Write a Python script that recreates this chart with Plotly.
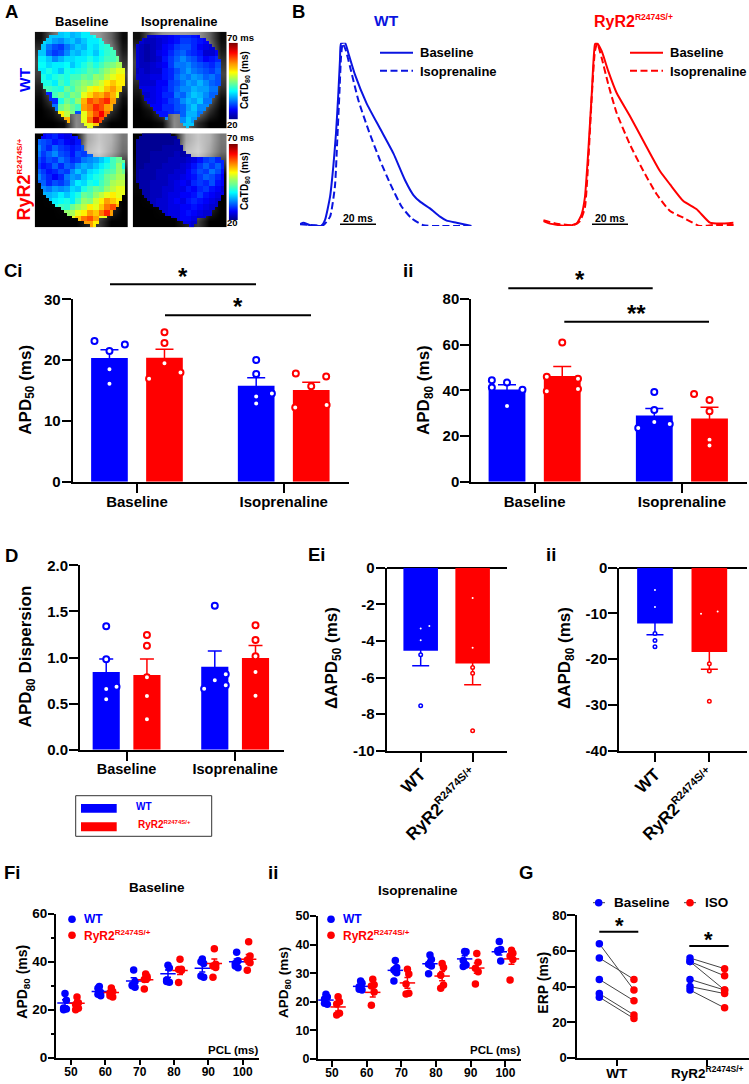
import plotly.graph_objects as go

W, H = 749, 1084
BLUE = "#0000ff"
RED = "#ff0000"
FONT = "Liberation Sans"

# ---- panel A, CaTD80 maps in ms
a_wt_base = [
    [0, 0, 0, 36, 36, 37, 35, 36, 38, 38, 40, 0, 0, 0, 0, 0],
    [0, 37, 36, 34, 33, 35, 36, 34, 36, 38, 38, 40, 40, 0, 0, 0],
    [0, 36, 32, 30, 29, 32, 34, 36, 35, 38, 37, 40, 41, 42, 0, 0],
    [0, 36, 31, 29, 30, 33, 36, 35, 37, 38, 36, 39, 41, 42, 0, 0],
    [0, 38, 36, 33, 35, 37, 37, 38, 38, 40, 38, 40, 42, 42, 44, 0],
    [0, 39, 37, 38, 38, 39, 36, 38, 40, 42, 40, 42, 44, 45, 47, 0],
    [0, 38, 40, 38, 36, 40, 39, 40, 41, 43, 42, 44, 46, 48, 50, 0],
    [0, 40, 38, 40, 41, 40, 42, 42, 44, 43, 46, 45, 48, 50, 52, 0],
    [0, 0, 40, 38, 42, 40, 43, 44, 46, 45, 47, 49, 52, 54, 52, 0],
    [0, 0, 42, 41, 40, 44, 42, 45, 47, 50, 52, 50, 54, 56, 53, 0],
    [0, 0, 28, 42, 44, 42, 45, 44, 50, 53, 56, 55, 58, 55, 50, 0],
    [0, 0, 0, 28, 40, 44, 42, 46, 55, 60, 58, 60, 62, 56, 0, 0],
    [0, 0, 0, 32, 44, 46, 44, 42, 56, 58, 62, 60, 56, 55, 0, 0],
    [0, 0, 0, 0, 52, 48, 45, 30, 50, 56, 60, 64, 58, 0, 0, 0],
    [0, 0, 0, 0, 0, 55, 0, 0, 50, 58, 66, 60, 0, 0, 0, 0],
    [0, 0, 0, 0, 0, 0, 0, 0, 0, 50, 54, 0, 0, 0, 0, 0],
]
a_wt_iso = [
    [0, 0, 24, 24, 25, 25, 26, 27, 28, 28, 27, 26, 25, 0, 0, 0],
    [0, 24, 23, 23, 24, 25, 26, 27, 29, 29, 28, 27, 26, 25, 0, 0],
    [24, 23, 22, 23, 24, 26, 27, 29, 30, 30, 28, 26, 25, 24, 25, 0],
    [24, 23, 22, 23, 25, 26, 28, 30, 31, 29, 28, 27, 24, 24, 26, 0],
    [24, 23, 22, 23, 24, 27, 29, 31, 33, 31, 30, 28, 26, 27, 28, 0],
    [24, 23, 23, 24, 25, 26, 29, 32, 32, 33, 31, 30, 29, 28, 30, 0],
    [23, 24, 23, 24, 24, 27, 28, 30, 32, 34, 32, 31, 30, 29, 31, 0],
    [0, 24, 24, 25, 25, 27, 28, 31, 33, 32, 34, 33, 31, 32, 30, 0],
    [0, 24, 24, 24, 26, 26, 29, 30, 32, 34, 33, 35, 33, 31, 30, 0],
    [0, 0, 25, 25, 26, 27, 29, 31, 33, 33, 35, 34, 34, 32, 0, 0],
    [0, 0, 24, 25, 26, 28, 28, 32, 31, 34, 36, 35, 33, 31, 0, 0],
    [0, 0, 0, 25, 26, 27, 29, 30, 33, 35, 34, 36, 32, 0, 0, 0],
    [0, 0, 0, 0, 26, 28, 28, 30, 31, 34, 36, 33, 0, 0, 0, 0],
    [0, 0, 0, 0, 0, 27, 28, 29, 31, 35, 35, 32, 0, 0, 0, 0],
    [0, 0, 0, 0, 0, 0, 0, 0, 33, 36, 34, 0, 0, 0, 0, 0],
    [0, 0, 0, 0, 0, 0, 0, 0, 0, 36, 0, 0, 0, 0, 0, 0],
]
a_ryr_base = [
    [0, 26, 27, 28, 26, 25, 26, 27, 0, 0, 0, 0, 0, 0, 0, 0],
    [31, 30, 29, 27, 28, 26, 25, 27, 0, 0, 0, 0, 0, 0, 0, 0],
    [33, 30, 28, 31, 29, 28, 27, 28, 30, 0, 0, 0, 0, 0, 0, 0],
    [32, 29, 31, 33, 30, 29, 27, 30, 29, 31, 0, 0, 0, 0, 0, 0],
    [30, 28, 30, 29, 32, 30, 28, 29, 32, 33, 34, 36, 38, 42, 44, 0],
    [29, 27, 28, 31, 28, 31, 30, 33, 35, 34, 36, 38, 40, 42, 46, 40],
    [31, 29, 27, 28, 30, 29, 33, 36, 34, 37, 38, 40, 42, 43, 46, 44],
    [33, 30, 28, 26, 28, 32, 34, 33, 36, 38, 40, 41, 44, 45, 47, 0],
    [0, 31, 28, 30, 29, 31, 35, 38, 37, 40, 39, 42, 44, 47, 48, 0],
    [0, 33, 32, 34, 33, 34, 37, 36, 40, 42, 44, 43, 46, 48, 50, 0],
    [0, 0, 35, 36, 38, 36, 38, 40, 44, 43, 46, 48, 50, 52, 50, 0],
    [0, 0, 36, 38, 39, 40, 38, 42, 46, 45, 49, 52, 56, 54, 52, 0],
    [0, 0, 0, 40, 42, 41, 44, 46, 48, 52, 50, 54, 58, 60, 55, 0],
    [0, 0, 0, 0, 44, 46, 47, 50, 52, 56, 54, 58, 62, 56, 0, 0],
    [0, 0, 0, 0, 0, 0, 50, 54, 58, 60, 56, 50, 0, 0, 0, 0],
    [0, 0, 0, 0, 0, 0, 0, 0, 0, 56, 52, 0, 0, 0, 0, 0],
]
a_ryr_iso = [
    [0, 21, 21, 21, 21, 21, 21, 21, 0, 0, 0, 0, 0, 0, 0, 0],
    [21, 21, 21, 21, 21, 21, 21, 22, 0, 0, 0, 0, 0, 0, 0, 0],
    [21, 21, 21, 21, 21, 22, 22, 22, 22, 0, 0, 0, 0, 0, 0, 0],
    [21, 21, 21, 22, 22, 22, 22, 23, 22, 23, 0, 0, 0, 0, 0, 0],
    [21, 21, 21, 22, 22, 22, 23, 23, 23, 24, 25, 27, 29, 30, 28, 0],
    [21, 21, 22, 22, 22, 23, 23, 23, 24, 25, 27, 29, 31, 29, 31, 28],
    [21, 22, 22, 22, 23, 23, 23, 24, 24, 26, 28, 30, 29, 32, 30, 27],
    [21, 22, 22, 22, 23, 23, 24, 24, 25, 26, 27, 29, 31, 30, 28, 26],
    [0, 22, 22, 23, 23, 23, 24, 25, 26, 25, 28, 29, 28, 30, 27, 26],
    [0, 22, 22, 23, 23, 24, 24, 25, 25, 27, 26, 28, 29, 27, 26, 24],
    [0, 0, 22, 23, 23, 24, 25, 25, 26, 26, 27, 29, 27, 26, 25, 0],
    [0, 0, 22, 23, 24, 24, 25, 26, 25, 27, 28, 27, 26, 25, 24, 0],
    [0, 0, 0, 23, 24, 24, 25, 25, 26, 26, 27, 26, 25, 24, 24, 0],
    [0, 0, 0, 0, 0, 24, 25, 25, 26, 27, 26, 25, 24, 24, 0, 0],
    [0, 0, 0, 0, 0, 0, 24, 25, 26, 26, 25, 24, 0, 0, 0, 0],
    [0, 0, 0, 0, 0, 0, 0, 0, 0, 25, 24, 0, 0, 0, 0, 0],
]
# heart outline per map row (32 rows), left and right edge on a 0-280 scale across the picture
a_wt_base_l = [71, 46, 31, 23, 18, 14, 12, 11, 10, 10, 10, 11, 12, 14, 16, 18, 21, 24, 28, 31, 36, 41, 46, 51, 56, 61, 68, 76, 88, 100, 146, 154]
a_wt_base_r = [166, 186, 201, 214, 224, 233, 241, 246, 252, 256, 260, 264, 267, 269, 270, 270, 269, 268, 266, 263, 258, 253, 248, 243, 238, 233, 226, 218, 208, 201, 191, 176]
a_wt_iso_l = [280, 45, 28, 18, 13, 10, 8, 7, 7, 7, 7, 7, 8, 9, 10, 12, 14, 16, 19, 22, 27, 32, 38, 45, 52, 60, 68, 80, 95, 140, 145, 155]
a_wt_iso_r = [0, 200, 218, 230, 238, 245, 250, 255, 258, 261, 263, 265, 266, 266, 266, 265, 263, 261, 258, 254, 250, 245, 238, 232, 225, 218, 210, 202, 196, 188, 180, 165]
a_ryr_l = [30, 14, 8, 6, 5, 5, 5, 5, 5, 5, 6, 6, 7, 8, 9, 10, 12, 15, 19, 24, 30, 37, 45, 54, 64, 75, 87, 100, 115, 130, 148, 165]
a_ryr_r = [118, 132, 138, 144, 148, 153, 160, 172, 266, 270, 273, 274, 275, 275, 274, 274, 273, 272, 271, 270, 268, 265, 262, 258, 253, 247, 240, 232, 222, 190, 190, 186]
# grey fluorescence picture behind the maps
a_bg_wt = [
    [15, 100, 150, 160, 160, 150, 100, 10],
    [50, 140, 160, 160, 160, 160, 130, 25],
    [70, 150, 160, 160, 160, 160, 140, 50],
    [60, 140, 160, 160, 160, 160, 150, 70],
    [30, 120, 160, 160, 160, 160, 140, 50],
    [10, 80, 140, 160, 160, 160, 110, 15],
    [0, 20, 80, 130, 130, 130, 50, 0],
    [0, 0, 10, 140, 110, 40, 0, 0],
]
a_bg_ryr = [
    [0, 0, 0, 10, 170, 200, 180, 120],
    [0, 0, 0, 30, 190, 210, 170, 110],
    [5, 10, 10, 30, 140, 170, 120, 60],
    [10, 20, 20, 30, 40, 60, 40, 10],
    [5, 10, 20, 30, 30, 30, 20, 5],
    [0, 5, 10, 20, 30, 30, 20, 0],
    [0, 0, 5, 10, 40, 110, 40, 0],
    [0, 0, 0, 0, 30, 60, 0, 0],
]
a_cb_levels = [20, 22, 24, 26, 28, 30, 32, 34, 36, 38, 40, 42, 44, 46, 48, 50, 52, 54, 56, 58, 60, 62, 64, 66, 68, 70]

# ---- panel B, normalised transients against ms
b_wt_base_t = [0, 1.9, 5.6, 12, 13.9, 16.7, 18.5, 20, 21.3, 22.2, 22.8, 25, 26.9, 30.6, 37, 44.4, 51.9, 58.3, 63, 66.7, 72.2, 77.8, 81.5, 87, 95.4]
b_wt_base_v = [.011, .018, .004, .002, .033, .16, .324, .505, .724, .905, .996, 1, .942, .824, .669, .533, .396, .251, .169, .133, .096, .051, .029, .018, 0]
b_wt_iso_t = [0, 7.4, 13, 16.7, 19.4, 20.7, 21.9, 22.8, 23.7, 25.4, 27.8, 32.4, 38, 44.4, 50, 56.5, 62, 68.5, 77.8, 88.9, 95.4]
b_wt_iso_v = [.01, .004, .005, .051, .215, .469, .724, .924, .996, .96, .869, .687, .524, .36, .233, .105, .042, .004, 0, 0, 0]
b_ryr_base_t = [0, 3.7, 12.9, 18.5, 21.3, 23.1, 25, 26.9, 28.7, 29.6, 32.4, 36.1, 40.7, 48.1, 55.6, 64.8, 70.4, 77.8, 85.2, 92.6, 98.1, 105.6]
b_ryr_base_v = [.027, .013, 0, .013, .064, .155, .409, .718, .991, 1, .955, .845, .727, .6, .464, .3, .227, .136, .091, .018, .013, .018]
b_ryr_iso_t = [0, 7.4, 16.7, 20.4, 23.1, 25, 26.9, 28.7, 30, 32.4, 36.1, 40.7, 48.1, 55.6, 63, 70.4, 77.8, 87, 94.4, 106.5]
b_ryr_iso_v = [.031, .013, .005, .027, .1, .355, .7, .955, .995, .918, .773, .618, .445, .3, .173, .082, .045, 0, .005, .005]

# ---- panels C and D, one row per condition (Baseline, Isoprenaline)
groups = ["Baseline", "Isoprenaline"]

ci_mean_wt = [20.35, 15.8]
ci_mean_ryr = [20.4, 15.1]
ci_sem_wt = [1.35, 1.3]
ci_sem_ryr = [1.4, 1.25]
ci_pts_wt = [[23.15, 21.5, 22.55, 18.5, 16.1], [20, 17.7, 14, 12.85, 14.5]]
ci_pts_ryr = [[24.6, 22.8, 19.5, 16.95, 17.95], [17.8, 17.3, 15.7, 12.2, 12.6]]
ci_jit_wt = [[-.102, 0, .105, 0, 0], [0, 0, 0, 0, .107]]
ci_jit_ryr = [[0, 0, 0, -.105, .109], [-.105, .102, 0, -.109, .105]]

cii_mean_wt = [40.4, 29]
cii_mean_ryr = [46.3, 27.7]
cii_sem_wt = [2.1, 3]
cii_sem_ryr = [4.1, 4.9]
cii_pts_wt = [[44.4, 41.3, 43.4, 40.3, 33.1], [39.3, 31.4, 26.1, 25.3, 23.5]]
cii_pts_ryr = [[61, 46, 45.1, 39.6, 40.6], [38.4, 35.8, 30.8, 18.4, 15.8]]
cii_jit_wt = [[-.103, -.103, 0, .105, 0], [0, 0, 0, .105, -.109]]
cii_jit_ryr = [[0, -.105, .107, -.105, .107], [-.105, 0, 0, 0, 0]]

d_mean_wt = [.843, .90]
d_mean_ryr = [.81, .995]
d_sem_wt = [.141, .17]
d_sem_ryr = [.174, .135]
d_pts_wt = [[1.34, .98, .683, .658, .546], [1.562, .817, .752, .70, .662]]
d_pts_ryr = [[1.244, 1.128, .785, .582, .329], [1.349, 1.19, 1.013, .843, .586]]
d_jit_wt = [[0, 0, .095, 0, 0], [0, .101, 0, .101, -.098]]
d_jit_ryr = [[0, 0, 0, 0, 0], [0, 0, 0, 0, 0]]

# ---- panel E, one value per genotype
ei_mean = [-4.54, -5.23]
ei_sem = [.82, 1.16]
ei_pts_wt = [-3.32, -3.19, -3.97, -4.75, -7.54]
ei_pts_ryr = [-1.66, -4.37, -5.46, -5.77, -8.91]
ei_jit_wt = [0, .167, 0, 0, 0]
ei_jit_ryr = [0, 0, 0, 0, 0]

eii_mean = [-12.17, -18.43]
eii_sem = [2.47, 3.77]
eii_pts_wt = [-4.88, -8.6, -14.4, -15.9, -17.3]
eii_pts_ryr = [-10.05, -9.6, -21, -22.6, -29.2]
eii_jit_wt = [0, 0, 0, 0, 0]
eii_jit_ryr = [-.153, .153, 0, 0, 0]

# ---- panel F
pcl = [50, 60, 70, 80, 90, 100]
fi_wt = [[26.7, 23.9, 20.7, 20.3, 20], [29.7, 27.2, 26.4, 25.8, 28.9], [36.5, 31.7, 30, 29.4, 30.3],
         [38.5, 37.4, 32.4, 31.4, 31.7], [41.1, 39.3, 34, 33.5, 40], [43.9, 40.4, 39.3, 37.5, 38.2]]
fi_ryr = [[25.3, 22.9, 22.2, 20.6, 20], [29, 27.6, 27.1, 25.3, 25.8], [34.9, 33.8, 32.6, 33, 28.6],
          [41, 36.9, 36.7, 36.3, 31.3], [45.4, 38.9, 38.2, 37.6, 33.5], [48.3, 42.4, 40.7, 39.6, 36.4]]
fi_mean_wt = [22.8, 27.6, 32, 35, 37.3, 40]
fi_mean_ryr = [22.7, 27.2, 32.5, 36.3, 39.2, 41]
fi_sem_wt = [1.3, .8, 1.3, 1.5, 1.6, 1.1]
fi_sem_ryr = [1, .7, 1.1, 1.6, 1.9, 2]
fii_wt = [[22.6, 21.7, 21, 19.1, 19.5], [27.3, 26.5, 25.3, 24.1, 24.4], [34.4, 32, 31.1, 30.2, 27.3],
          [36.4, 34.8, 33.1, 32.5, 29.8], [37.6, 37.5, 34.4, 32.9, 32.3], [41.1, 38.3, 37.5, 34.3, 37.9]]
fii_ryr = [[21.8, 20, 19.2, 16, 15.4], [27.9, 26, 25.5, 23.4, 18.8], [31.4, 29.7, 26.2, 23, 22.7],
           [33.4, 32, 29.3, 25.9, 24.7], [36.9, 33.8, 31.7, 30.5, 26.2], [38, 37, 36, 34.8, 27.6]]
fii_mean_wt = [20.6, 25.4, 31, 33.3, 35, 37.5]
fii_mean_ryr = [18.2, 23.3, 26.6, 29, 31.8, 35]
fii_sem_wt = [.7, .6, 1.2, 1.1, 1.1, 1.1]
fii_sem_ryr = [1.4, 1.6, 1.9, 1.6, 1.8, 1.9]
f_jit = [0, .4, -.4, .4, -.4]

# ---- panel G, paired ERP
g_wt_base = [64, 56, 44, 36, 34]
g_wt_iso = [38, 44, 32, 24, 22]
g_ryr_base = [56, 54, 54, 44, 40, 38]
g_ryr_iso = [50, 46, 38, 38, 36, 28]


def ryr(sup):
    return f'RyR2<sup><span style="font-size:{sup}px">R2474S/+</span></sup>'


def px_x(x):
    return x / W


def px_y(y):
    return 1 - y / H


fig = go.Figure()
layout_axes = {}
shapes = []
notes = []


def add_axes(n, box, xr, yr, **kw):
    x0, x1, y0, y1 = box
    xa = dict(domain=[px_x(x0), px_x(x1)], range=xr, anchor=f"y{n}", showgrid=False, zeroline=False, automargin=False,
              showline=True, linecolor="black", linewidth=2, ticks="outside", ticklen=kw.get("xlen", 9), tickwidth=2,
              ticklabelstandoff=kw.get("xoff", -4),
              tickcolor="black", tickfont=dict(family=FONT, size=kw.get("xfont", 15), color="black", weight=700))
    ya = dict(domain=[px_y(y1), px_y(y0)], range=yr, anchor=f"x{n}", showgrid=False, zeroline=False, automargin=False,
              showline=True, linecolor="black", linewidth=2, ticks="outside", ticklen=kw.get("ylen", 9), tickwidth=2,
              ticklabelstandoff=kw.get("yoff", -2),
              tickcolor="black", tickfont=dict(family=FONT, size=kw.get("yfont", 15), color="black", weight=700),
              tickvals=kw["yticks"])
    if "ytext" in kw:
        ya["ticktext"] = kw["ytext"]
    xa["tickvals"] = kw["xticks"]
    xa["ticktext"] = kw["xtext"]
    if "xangle" in kw:
        xa["tickangle"] = kw["xangle"]
    if "zero" in kw:
        ya.update(zeroline=True, zerolinecolor="black", zerolinewidth=2)
    if "minor" in kw:
        ya["minor"] = dict(ticks="outside", ticklen=3.5, tickwidth=1.5, tickcolor="black", dtick=kw["minor"])
    key = "" if n == 1 else str(n)
    layout_axes[f"xaxis{key}"] = xa
    layout_axes[f"yaxis{key}"] = ya


def axref(n):
    return ("x", "y") if n == 1 else (f"x{n}", f"y{n}")


def note(x, y, text, size, color="black", angle=0, anchor="center"):
    notes.append(dict(x=px_x(x), y=px_y(y), xref="paper", yref="paper", text=text, showarrow=False,
                      textangle=angle, xanchor=anchor, yanchor="middle",
                      font=dict(family=FONT, size=size, color=color, weight=700)))


def seg(x0, y0, x1, y1, color="black", width=2, dash=None):
    shapes.append(dict(type="line", xref="paper", yref="paper", x0=px_x(x0), x1=px_x(x1), y0=px_y(y0), y1=px_y(y1),
                       line=dict(color=color, width=width, dash=dash)))


def dot(x, y, r, color):
    shapes.append(dict(type="circle", xref="paper", yref="paper", x0=px_x(x - r), x1=px_x(x + r),
                       y0=px_y(y + r), y1=px_y(y - r), fillcolor=color, line=dict(color=color, width=0)))


def patch(x0, y0, x1, y1, fill, line=None):
    shapes.append(dict(type="rect", xref="paper", yref="paper", x0=px_x(x0), x1=px_x(x1), y0=px_y(y1), y1=px_y(y0),
                       fillcolor=fill, line=dict(color=line or fill, width=1 if line else 0)))


def bars(n, xs, means, sems, color, width, cap):
    xr, yr = axref(n)
    fig.add_trace(go.Bar(x=xs, y=means, width=width, marker=dict(color=color, line=dict(width=0)),
                         error_y=dict(type="data", array=sems, color=color, thickness=1.5, width=cap),
                         xaxis=xr, yaxis=yr, showlegend=False))


def circles(n, xs, ys, color, size=6, lw=2):
    xr, yr = axref(n)
    fig.add_trace(go.Scatter(x=xs, y=ys, mode="markers", xaxis=xr, yaxis=yr, showlegend=False,
                             marker=dict(color="white", size=size, line=dict(color=color, width=lw))))


def grouped_panel(n, wt, ryr_, sem_wt, sem_ryr, pts_wt, pts_ryr, jit_wt, jit_ryr, cap):
    off = .1875
    xw = [i - off for i in range(2)]
    xr_ = [i + off for i in range(2)]
    bars(n, xw, wt, sem_wt, BLUE, .25, cap)
    bars(n, xr_, ryr_, sem_ryr, RED, .25, cap)
    for i in range(2):
        circles(n, [xw[i] + j for j in jit_wt[i]], pts_wt[i], BLUE)
        circles(n, [xr_[i] + j for j in jit_ryr[i]], pts_ryr[i], RED)


def heart_map(grid, left, right, notch=None):
    # 32x32 picture from the 16x16 readings, blanked outside the outline
    z = []
    for r in range(32):
        row = []
        for c in range(32):
            cx = (c + .5) * 280 / 32
            inside = left[r] <= cx <= right[r]
            if notch and notch[0] <= r <= notch[1] and notch[2] <= cx <= notch[3]:
                inside = False
            v = None
            if inside:
                cells = grid[r // 2]
                v = cells[c // 2]
                if not v:
                    known = [i for i in range(16) if cells[i]]
                    v = cells[min(known, key=lambda i: abs(i - c // 2))]
            row.append(v)
        z.append(row)
    return z


# A
jet = [[0, "#00007f"], [.125, "#0000ff"], [.375, "#00ffff"], [.625, "#ffff00"], [.875, "#ff0000"], [1, "#7f0000"]]
a_panels = [
    (10, (34.7, 128, 31.7, 128.3), a_bg_wt, heart_map(a_wt_base, a_wt_base_l, a_wt_base_r, (27, 31, 104, 141))),
    (11, (132.7, 226.7, 31.7, 128.3), a_bg_wt, heart_map(a_wt_iso, a_wt_iso_l, a_wt_iso_r, (27, 31, 107, 140))),
    (12, (34.7, 128, 133.3, 227.3), a_bg_ryr, heart_map(a_ryr_base, a_ryr_l, a_ryr_r)),
    (13, (132.7, 226.7, 133.3, 227.3), a_bg_ryr, heart_map(a_ryr_iso, a_ryr_l, a_ryr_r)),
]
for n, box, bg, z in a_panels:
    xr, yr = axref(n)
    layout_axes[f"xaxis{n}"] = dict(domain=[px_x(box[0]), px_x(box[1])], range=[0, 16], visible=False, anchor=f"y{n}")
    layout_axes[f"yaxis{n}"] = dict(domain=[px_y(box[3]), px_y(box[2])], range=[16, 0], visible=False, anchor=f"x{n}")
    fig.add_trace(go.Heatmap(z=bg, x0=1, dx=2, y0=1, dy=2, xaxis=xr, yaxis=yr, zmin=0, zmax=255, zsmooth="best",
                             colorscale=[[0, "black"], [1, "white"]], showscale=False))
    fig.add_trace(go.Heatmap(z=z, x0=.25, dx=.5, y0=.25, dy=.5, xaxis=xr, yaxis=yr, zmin=20, zmax=70, colorscale=jet,
                             showscale=False))
# the two colour keys
for n, cy0, cy1 in [(16, 42.7, 119.3), (17, 144, 220)]:
    xr, yr = axref(n)
    layout_axes[f"xaxis{n}"] = dict(domain=[px_x(228.7), px_x(238)], visible=False, anchor=f"y{n}")
    layout_axes[f"yaxis{n}"] = dict(domain=[px_y(cy1), px_y(cy0)], range=[20, 70], visible=False, anchor=f"x{n}")
    fig.add_trace(go.Heatmap(z=[[v] for v in a_cb_levels], y=a_cb_levels, x=[0], xaxis=xr, yaxis=yr, zmin=20, zmax=70,
                             colorscale=jet, zsmooth="best", showscale=False))

note(11, 12, "A", 18.5)
note(81, 21.7, "Baseline", 13)
note(179, 21.7, "Isoprenaline", 13)
note(24, 80, "WT", 15.5, BLUE, -90)
note(23.5, 180, ryr(8), 18, RED, -90)
for top, mid, bot in [(37, 80, 124), (138, 181, 222)]:
    note(241, top, "70 ms", 9.5)
    note(232, bot, "20", 9.5)
    note(245, mid, "CaTD<sub>80</sub> (ms)", 10, angle=-90)

# B
add_axes(14, (300, 471.7, 42.7, 226), [0, 95.4], [0, 1], xticks=[], xtext=[], yticks=[])
add_axes(15, (543.3, 735, 42.7, 226), [0, 106.5], [0, 1], xticks=[], xtext=[], yticks=[])
for k in (14, 15):
    layout_axes[f"xaxis{k}"].update(visible=False)
    layout_axes[f"yaxis{k}"].update(visible=False)
for n, t1, v1, t2, v2, color in [(14, b_wt_base_t, b_wt_base_v, b_wt_iso_t, b_wt_iso_v, "#0a14e0"),
                                 (15, b_ryr_base_t, b_ryr_base_v, b_ryr_iso_t, b_ryr_iso_v, RED)]:
    xr, yr = axref(n)
    fig.add_trace(go.Scatter(x=t1, y=v1, mode="lines", xaxis=xr, yaxis=yr, showlegend=False, cliponaxis=False,
                             line=dict(color=color, width=2, shape="spline", smoothing=.5)))
    fig.add_trace(go.Scatter(x=t2, y=v2, mode="lines", xaxis=xr, yaxis=yr, showlegend=False, cliponaxis=False,
                             line=dict(color=color, width=2, dash="7px,3.5px", shape="spline", smoothing=.5)))
note(298, 11, "B", 18.5)
note(386, 20.7, "WT", 15.5, "#0a14e0")
note(591.7, 21, ryr(8.5), 16, RED, anchor="left")
for x0, tx, color in [(380, 417.7, "#0a14e0"), (630, 667.7, RED)]:
    seg(x0, 52.7, x0 + 33, 52.7, color, 2)
    seg(x0, 70.7, x0 + 33, 70.7, color, 2, "7px,3.5px")
    note(tx, 53, "Baseline", 13, anchor="left")
    note(tx, 71, "Isoprenaline", 13, anchor="left")
for x0 in (340, 592):
    seg(x0, 224.3, x0 + 36, 224.3, "black", 1.6)
    note(x0 + 18, 218, "20 ms", 10.5)

# Ci
add_axes(1, (72.7, 349, 299.3, 481.7), [-.438, 1.445], [0, 30], xticks=[0, 1], xtext=groups, yticks=[0, 10, 20, 30])
grouped_panel(1, ci_mean_wt, ci_mean_ryr, ci_sem_wt, ci_sem_ryr, ci_pts_wt, ci_pts_ryr, ci_jit_wt, ci_jit_ryr, 9)
note(14, 270, "Ci", 18.5)
note(26.7, 390, "APD<sub>50</sub> (ms)", 17, angle=-90)
seg(110, 284.3, 256, 284.3)
note(182.7, 276, "*", 24)
seg(165, 315.3, 311, 315.3)
note(238, 306, "*", 24)

# Cii
add_axes(2, (471.3, 746.7, 299, 481.7), [-.43, 1.44], [0, 80], xticks=[0, 1], xtext=groups, yticks=[0, 20, 40, 60, 80])
grouped_panel(2, cii_mean_wt, cii_mean_ryr, cii_sem_wt, cii_sem_ryr, cii_pts_wt, cii_pts_ryr, cii_jit_wt, cii_jit_ryr, 9)
note(408, 270, "ii", 18.5)
note(425, 390, "APD<sub>80</sub> (ms)", 17, angle=-90)
seg(508.3, 288.3, 652.7, 288.3)
note(580, 279, "*", 24)
seg(564.3, 321.7, 709, 321.7)
note(636.7, 313, "**", 24)

# D
add_axes(3, (80, 284, 565.3, 749.7), [-.429, 1.45], [0, 2], xticks=[0, 1], xtext=groups, xfont=14.5,
         yticks=[0, .5, 1, 1.5, 2], ytext=["0.0", "0.5", "1.0", "1.5", "2.0"])
grouped_panel(3, d_mean_wt, d_mean_ryr, d_sem_wt, d_sem_ryr, d_pts_wt, d_pts_ryr, d_jit_wt, d_jit_ryr, 7)
note(11.7, 555, "D", 18.5)
note(26.7, 656.7, "APD<sub>80</sub> Dispersion", 17, angle=-90)
patch(75.7, 795.7, 211.7, 836.3, "white", "#333333")
patch(81, 804, 116.7, 812.7, BLUE)
patch(81, 822.3, 116.7, 831.3, RED)
note(143.7, 806.3, "WT", 10, BLUE)
note(136, 824, ryr(6), 10, RED, anchor="left")

# Ei, Eii
ticks_e = ["WT", ryr(11)]
add_axes(4, (386.7, 507.3, 567.7, 750.7), [-.654, 1.667], [-10, 0], xticks=[0, 1], xtext=ticks_e, xangle=-45, xfont=17,
         yticks=[0, -2, -4, -6, -8, -10], ytext=["0", "-2", "-4", "-6", "-8", "-10"], zero=True)
bars(4, [0], ei_mean[:1], ei_sem[:1], BLUE, .665, 8.5)
bars(4, [1], ei_mean[1:], ei_sem[1:], RED, .665, 8.5)
circles(4, ei_jit_wt, ei_pts_wt, BLUE, 3.5, 1.5)
circles(4, [1 + j for j in ei_jit_ryr], ei_pts_ryr, RED, 3.5, 1.5)
note(316.7, 554, "Ei", 18.5)
note(333, 658, "ΔAPD<sub>50</sub> (ms)", 17, angle=-90)

add_axes(5, (619.3, 746.7, 567.7, 750.7), [-.656, 1.687], [-40, 0], xticks=[0, 1], xtext=ticks_e, xangle=-45, xfont=17,
         yticks=[0, -10, -20, -30, -40], ytext=["0", "-10", "-20", "-30", "-40"], zero=True)
bars(5, [0], eii_mean[:1], eii_sem[:1], BLUE, .656, 8.5)
bars(5, [1], eii_mean[1:], eii_sem[1:], RED, .656, 8.5)
circles(5, eii_jit_wt, eii_pts_wt, BLUE, 3.5, 1.5)
circles(5, [1 + j for j in eii_jit_ryr], eii_pts_ryr, RED, 3.5, 1.5)
note(550.7, 554, "ii", 18.5)
note(566, 658, "ΔAPD<sub>80</sub> (ms)", 17, angle=-90)


# Fi, Fii
def f_panel(n, wt, ryr_, mean_wt, mean_ryr, sem_wt, sem_ryr):
    xr, yr = axref(n)
    for vals, mean, sem, off, color in [(wt, mean_wt, sem_wt, -1.75, BLUE), (ryr_, mean_ryr, sem_ryr, 1.75, RED)]:
        fig.add_trace(go.Scatter(x=[p + off for p in pcl], y=mean, mode="markers", xaxis=xr, yaxis=yr, showlegend=False,
                                 marker=dict(symbol="line-ew", size=11, line=dict(color=color, width=1.5)),
                                 error_y=dict(type="data", array=sem, color=color, thickness=1.5, width=3)))
        xs = [p + off + j for p in pcl for j in f_jit]
        ys = [v for row in vals for v in row]
        fig.add_trace(go.Scatter(x=xs, y=ys, mode="markers", xaxis=xr, yaxis=yr, showlegend=False,
                                 marker=dict(color=color, size=7.5)))


pcl_text = [str(p) for p in pcl]
add_axes(6, (56, 259, 913.7, 1057.7), [45.63, 104.76], [0, 60], xticks=pcl, xtext=pcl_text, xfont=12, yfont=13.5,
         yticks=[0, 20, 40, 60], minor=10, xlen=5.5, ylen=6)
f_panel(6, fi_wt, fi_ryr, fi_mean_wt, fi_mean_ryr, fi_sem_wt, fi_sem_ryr)
note(11.7, 872.7, "Fi", 18.5)
note(157, 887.7, "Baseline", 13.5)
note(23, 981.7, "APD<sub>80</sub> (ms)", 14, angle=-90)
note(233, 1050, "PCL (ms)", 11.5)
dot(72, 919.3, 3.8, BLUE)
dot(72, 935.3, 3.8, RED)
note(82, 919.3, "WT", 12, BLUE, anchor="left")
note(82, 935.3, ryr(8), 12, RED, anchor="left")

add_axes(7, (318, 521, 916, 1059), [45.96, 104.5], [0, 50], xticks=pcl, xtext=pcl_text, xfont=12, yfont=12.5,
         yticks=[0, 10, 20, 30, 40, 50], xlen=5.5, ylen=6)
f_panel(7, fii_wt, fii_ryr, fii_mean_wt, fii_mean_ryr, fii_sem_wt, fii_sem_ryr)
note(272.7, 872.7, "ii", 18.5)
note(418, 890, "Isoprenaline", 13.5)
note(284, 983, "APD<sub>80</sub> (ms)", 13.5, angle=-90)
note(495, 1050, "PCL (ms)", 11.5)
dot(331, 919.3, 3.8, BLUE)
dot(331, 935.3, 3.8, RED)
note(341, 919.3, "WT", 12, BLUE, anchor="left")
note(341, 935.3, ryr(8), 12, RED, anchor="left")

# G
add_axes(8, (577.3, 749, 915.3, 1057.7), [-.434, 1.46], [0, 80], xticks=[0, 1], xtext=["WT", ryr(8.5)], xfont=13.5,
         yfont=13, yticks=[0, 20, 40, 60, 80], xlen=6, ylen=8)
g_off = .191
for pos, base, iso in [(0, g_wt_base, g_wt_iso), (1, g_ryr_base, g_ryr_iso)]:
    for b, s in zip(base, iso):
        fig.add_trace(go.Scatter(x=[pos - g_off, pos + g_off], y=[b, s], mode="lines", xaxis="x8", yaxis="y8",
                                 showlegend=False, line=dict(color="#444444", width=1)))
    fig.add_trace(go.Scatter(x=[pos - g_off] * len(base), y=base, mode="markers", xaxis="x8", yaxis="y8",
                             showlegend=False, marker=dict(color=BLUE, size=7.5)))
    fig.add_trace(go.Scatter(x=[pos + g_off] * len(iso), y=iso, mode="markers", xaxis="x8", yaxis="y8",
                             showlegend=False, marker=dict(color=RED, size=7.5)))
note(526, 872.7, "G", 18.5)
note(542.7, 983, "ERP (ms)", 14, angle=-90)
seg(593, 902.7, 605, 902.7, "#444444", 1)
dot(598.7, 902.7, 3.8, BLUE)
note(612, 902.7, "Baseline", 13.5, anchor="left")
seg(684, 902.7, 696, 902.7, "#444444", 1)
dot(690, 902.7, 3.8, RED)
note(702.7, 902.7, "ISO", 13.5, anchor="left")
seg(599.3, 931.7, 638.3, 931.7)
note(619, 925, "*", 22)
seg(689.3, 946, 728.7, 946)
note(708.7, 939, "*", 22)

fig.update_layout(width=W, height=H, margin=dict(l=0, r=0, t=0, b=0), paper_bgcolor="white", plot_bgcolor="white",
                  showlegend=False, barmode="overlay", shapes=shapes, annotations=notes,
                  font=dict(family=FONT, color="black"), **layout_axes)

fig.write_html("out.html", config={"displayModeBar": False}, post_script="document.body.style.margin='0'")
